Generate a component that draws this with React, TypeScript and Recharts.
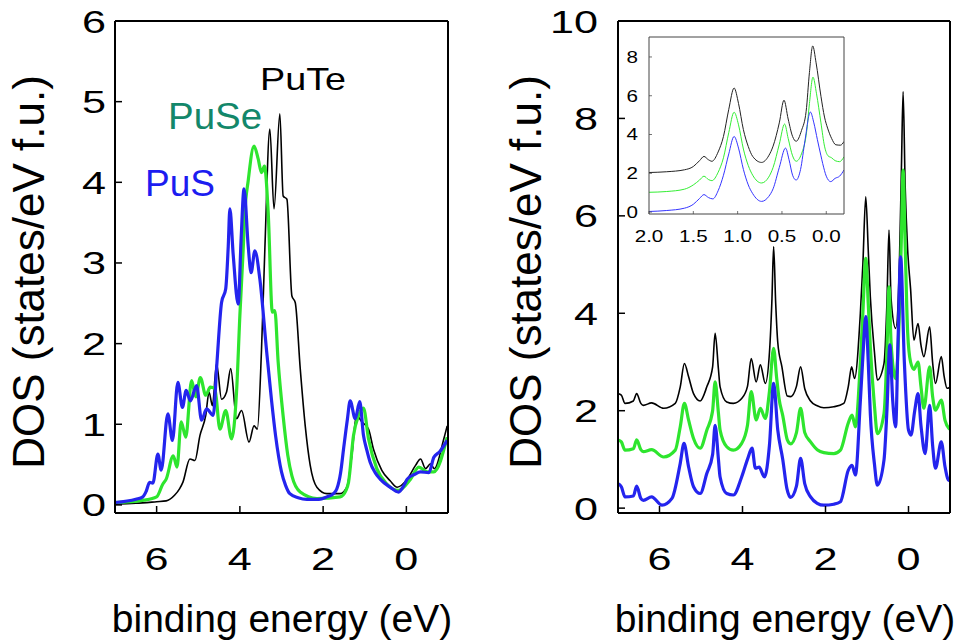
import { LineChart, Line, XAxis, YAxis } from "recharts";

type Pt = [number, number]; // [binding energy (eV), DOS]

// ---- left panel: PuS / PuSe / PuTe ----
const leftPuS: Pt[] = [
  [7.0, 0.03], [6.5, 0.07], [6.33, 0.1], [6.25, 0.17], [6.17, 0.28], [6.09, 0.27],
  [5.97, 0.63], [5.89, 0.43], [5.73, 1.13], [5.62, 0.8], [5.49, 1.52], [5.38, 1.21],
  [5.29, 1.42], [5.19, 1.29], [5.04, 1.48], [4.92, 1.05], [4.8, 1.19], [4.64, 1.11],
  [4.55, 1.77], [4.44, 2.51], [4.34, 2.68], [4.28, 3.2], [4.24, 3.67], [4.16, 3.1],
  [4.04, 2.49], [3.97, 3.3], [3.9, 3.92], [3.8, 3.21], [3.73, 2.88], [3.64, 3.15],
  [3.52, 2.8], [3.36, 1.92], [3.24, 1.3], [3.14, 0.85], [3.0, 0.41], [2.9, 0.24],
  [2.8, 0.14], [2.6, 0.09], [2.39, 0.07], [2.1, 0.07], [1.91, 0.1], [1.75, 0.14],
  [1.67, 0.2], [1.58, 0.4], [1.51, 0.69], [1.42, 1.05], [1.35, 1.29], [1.23, 1.07],
  [1.12, 1.28], [1.03, 0.86], [0.95, 0.68], [0.87, 0.53], [0.75, 0.4], [0.63, 0.32],
  [0.39, 0.22], [0.19, 0.16], [0.05, 0.25], [-0.02, 0.32], [-0.2, 0.38], [-0.34, 0.41],
  [-0.54, 0.4], [-0.66, 0.59], [-0.8, 0.66], [-0.98, 0.8],
];
const leftPuSe: Pt[] = [
  [7.0, 0.03], [6.3, 0.06], [6.0, 0.1], [5.85, 0.26], [5.77, 0.32], [5.6, 0.61],
  [5.51, 0.47], [5.41, 1.03], [5.3, 0.84], [5.16, 1.54], [5.06, 1.34], [4.95, 1.58],
  [4.82, 1.36], [4.71, 1.46], [4.6, 1.44], [4.48, 0.94], [4.34, 1.17], [4.2, 0.82],
  [4.08, 1.4], [4.0, 2.35], [3.92, 3.17], [3.88, 3.63], [3.8, 4.02], [3.66, 4.45],
  [3.56, 4.29], [3.48, 4.12], [3.41, 4.2], [3.32, 3.63], [3.22, 2.39], [3.16, 2.41],
  [3.08, 1.77], [2.96, 1.1], [2.85, 0.62], [2.75, 0.36], [2.55, 0.16], [2.15, 0.08],
  [1.59, 0.1], [1.45, 0.18], [1.39, 0.28], [1.27, 0.86], [1.15, 1.11], [1.03, 1.2],
  [0.91, 0.82], [0.71, 0.45], [0.47, 0.26], [0.19, 0.18], [-0.1, 0.32], [-0.3, 0.47],
  [-0.5, 0.41], [-0.66, 0.41], [-0.98, 0.84],
];
const leftPuTe: Pt[] = [
  [7.0, 0.01], [6.5, 0.02], [6.0, 0.04], [5.77, 0.05], [5.57, 0.12], [5.45, 0.2],
  [5.37, 0.28], [5.2, 0.57], [5.08, 0.55], [4.96, 0.86], [4.82, 1.11], [4.74, 1.4],
  [4.66, 1.23], [4.56, 1.75], [4.44, 1.31], [4.32, 1.4], [4.22, 1.69], [4.08, 1.07],
  [3.96, 1.17], [3.78, 0.78], [3.66, 0.98], [3.58, 0.94], [3.48, 1.93], [3.4, 3.17],
  [3.28, 4.66], [3.18, 3.67], [3.04, 4.85], [2.96, 3.83], [2.87, 3.79], [2.75, 2.59],
  [2.67, 2.51], [2.55, 1.69], [2.43, 0.98], [2.31, 0.49], [2.15, 0.22], [1.91, 0.14],
  [1.59, 0.14], [1.43, 0.22], [1.31, 0.61], [1.2, 1.11], [1.07, 1.03], [0.91, 0.94],
  [0.79, 0.69], [0.59, 0.43], [0.39, 0.3], [0.22, 0.22], [-0.02, 0.32], [-0.22, 0.49],
  [-0.34, 0.57], [-0.46, 0.45], [-0.58, 0.51], [-0.67, 0.45], [-0.9, 0.82], [-0.98, 0.98],
];

// ---- right panel: offset curves ----
const rightTop: Pt[] = [
  [7.0, 2.35], [6.92, 2.32], [6.83, 2.15], [6.63, 2.2], [6.55, 2.35], [6.45, 2.15],
  [6.39, 2.11], [6.19, 2.16], [5.9, 2.05], [5.62, 2.15], [5.5, 2.49], [5.4, 2.97],
  [5.3, 2.7], [5.18, 2.35], [5.02, 2.2], [4.86, 2.49], [4.72, 2.9], [4.66, 3.59],
  [4.58, 2.85], [4.54, 2.49], [4.38, 2.18], [4.22, 2.15], [4.02, 2.25], [3.88, 2.5],
  [3.79, 3.07], [3.67, 2.59], [3.57, 2.94], [3.45, 2.56], [3.35, 3.2], [3.29, 4.3],
  [3.25, 5.37], [3.2, 4.2], [3.15, 3.4], [3.05, 2.9], [2.92, 2.3], [2.84, 2.29],
  [2.7, 2.5], [2.6, 2.9], [2.5, 2.45], [2.36, 2.2], [2.2, 2.1], [2.04, 2.06],
  [1.8, 2.08], [1.56, 2.15], [1.45, 2.5], [1.37, 2.9], [1.3, 2.66], [1.16, 4.0],
  [1.1, 5.0], [1.03, 6.39], [0.97, 5.3], [0.92, 4.34], [0.82, 3.2], [0.75, 2.63],
  [0.59, 2.97], [0.52, 4.2], [0.47, 5.71], [0.42, 4.3], [0.31, 3.69], [0.22, 5.0],
  [0.17, 7.0], [0.13, 8.55], [0.08, 6.6], [0.02, 5.3], [-0.05, 4.5], [-0.13, 3.45],
  [-0.23, 3.79], [-0.3, 3.35], [-0.37, 3.11], [-0.51, 3.72], [-0.58, 3.0], [-0.65, 2.56],
  [-0.79, 3.11], [-0.86, 2.7], [-0.93, 2.46], [-1.0, 2.48],
];
const rightMid: Pt[] = [
  [7.0, 1.4], [6.92, 1.36], [6.83, 1.19], [6.63, 1.22], [6.55, 1.4], [6.45, 1.2],
  [6.39, 1.16], [6.19, 1.2], [5.9, 1.05], [5.62, 1.19], [5.5, 1.67], [5.4, 2.15],
  [5.3, 1.81], [5.18, 1.43], [5.02, 1.23], [4.86, 1.6], [4.72, 2.0], [4.66, 2.59],
  [4.58, 1.95], [4.54, 1.6], [4.38, 1.26], [4.22, 1.19], [4.02, 1.33], [3.88, 1.7],
  [3.79, 2.39], [3.67, 1.81], [3.57, 2.05], [3.45, 1.84], [3.35, 2.4], [3.25, 3.28],
  [3.18, 2.7], [3.12, 2.25], [3.03, 1.9], [2.92, 1.4], [2.84, 1.32], [2.7, 1.55],
  [2.6, 2.05], [2.5, 1.55], [2.36, 1.36], [2.2, 1.2], [2.04, 1.14], [1.8, 1.12],
  [1.64, 1.19], [1.45, 1.75], [1.36, 1.91], [1.28, 1.67], [1.16, 3.0], [1.1, 4.0],
  [1.03, 5.13], [0.97, 4.2], [0.92, 3.31], [0.82, 2.1], [0.75, 1.53], [0.59, 1.94],
  [0.52, 3.2], [0.47, 4.54], [0.42, 3.4], [0.31, 2.66], [0.22, 4.0], [0.17, 5.6],
  [0.13, 6.94], [0.08, 5.4], [0.02, 3.6], [-0.05, 3.0], [-0.13, 2.85], [-0.23, 3.0],
  [-0.3, 2.5], [-0.37, 2.05], [-0.51, 2.9], [-0.58, 2.3], [-0.65, 2.01], [-0.79, 2.22],
  [-0.88, 1.8], [-0.97, 1.64], [-1.0, 1.62],
];
const rightLow: Pt[] = [
  [7.0, 0.5], [6.92, 0.44], [6.83, 0.23], [6.63, 0.25], [6.55, 0.45], [6.45, 0.2],
  [6.39, 0.16], [6.19, 0.23], [5.94, 0.06], [5.7, 0.2], [5.5, 0.92], [5.41, 1.33],
  [5.3, 0.85], [5.18, 0.44], [5.02, 0.3], [4.86, 0.71], [4.72, 1.1], [4.66, 1.7],
  [4.58, 1.0], [4.54, 0.64], [4.38, 0.3], [4.22, 0.27], [4.02, 0.64], [3.88, 1.0],
  [3.77, 1.23], [3.69, 0.82], [3.6, 0.84], [3.47, 0.64], [3.35, 1.3], [3.25, 2.56],
  [3.15, 1.6], [3.03, 1.0], [2.93, 0.4], [2.84, 0.22], [2.7, 0.45], [2.6, 1.02],
  [2.5, 0.5], [2.36, 0.23], [2.2, 0.1], [2.04, 0.06], [1.8, 0.08], [1.64, 0.13],
  [1.45, 0.78], [1.36, 0.88], [1.28, 0.68], [1.16, 2.2], [1.1, 3.1], [1.03, 3.93],
  [0.97, 3.0], [0.92, 1.94], [0.82, 0.9], [0.75, 0.47], [0.59, 0.99], [0.52, 2.0],
  [0.45, 3.35], [0.38, 2.2], [0.31, 1.67], [0.25, 3.5], [0.19, 5.16], [0.1, 3.0],
  [0.0, 1.6], [-0.06, 1.5], [-0.15, 2.0], [-0.23, 2.35], [-0.3, 1.7], [-0.4, 1.12],
  [-0.51, 2.11], [-0.58, 1.3], [-0.65, 0.82], [-0.79, 1.36], [-0.88, 0.85], [-0.97, 0.57],
  [-1.0, 0.6],
];

// ---- inset: zoom near the Fermi level ----
const insetTop: Pt[] = [
  [2.0, 2.04], [1.8, 2.08], [1.6, 2.18], [1.5, 2.35], [1.43, 2.65], [1.38, 2.87],
  [1.33, 2.7], [1.29, 2.62], [1.22, 3.1], [1.16, 3.9], [1.1, 5.3], [1.04, 6.4],
  [0.99, 5.6], [0.935, 4.25], [0.88, 3.38], [0.83, 2.87], [0.73, 2.56], [0.65, 2.9],
  [0.6, 3.4], [0.53, 4.6], [0.477, 5.77], [0.43, 4.8], [0.38, 3.9], [0.34, 3.65],
  [0.28, 4.2], [0.227, 5.2], [0.19, 7.2], [0.153, 8.57], [0.115, 7.7], [0.06, 5.97],
  [0.02, 4.9], [-0.015, 4.33], [-0.06, 3.8], [-0.108, 3.47], [-0.16, 3.45], [-0.2, 3.64],
];
const insetMid: Pt[] = [
  [2.0, 1.02], [1.8, 1.06], [1.6, 1.18], [1.5, 1.4], [1.43, 1.65], [1.38, 1.85],
  [1.33, 1.68], [1.29, 1.62], [1.22, 2.05], [1.16, 2.8], [1.1, 4.1], [1.04, 5.15],
  [0.99, 4.5], [0.935, 3.25], [0.88, 2.4], [0.83, 1.9], [0.73, 1.5], [0.65, 1.8],
  [0.6, 2.3], [0.53, 3.5], [0.47, 4.54], [0.43, 3.8], [0.38, 2.9], [0.34, 2.62],
  [0.28, 3.0], [0.22, 4.2], [0.19, 5.6], [0.15, 6.96], [0.11, 6.1], [0.06, 4.6],
  [0.02, 3.4], [-0.02, 2.9], [-0.06, 2.8], [-0.1, 2.65], [-0.15, 2.6], [-0.2, 2.85],
];
const insetLow: Pt[] = [
  [2.0, 0.03], [1.8, 0.08], [1.6, 0.2], [1.5, 0.4], [1.43, 0.7], [1.38, 0.9],
  [1.33, 0.75], [1.28, 0.68], [1.22, 1.1], [1.16, 1.9], [1.1, 3.0], [1.04, 3.9],
  [0.99, 3.3], [0.935, 2.2], [0.88, 1.4], [0.83, 0.95], [0.73, 0.55], [0.65, 0.8],
  [0.6, 1.2], [0.53, 2.3], [0.46, 3.3], [0.42, 2.7], [0.38, 1.9], [0.34, 1.65],
  [0.29, 2.2], [0.24, 3.7], [0.18, 5.16], [0.14, 4.6], [0.1, 3.73], [0.06, 2.9],
  [0.04, 2.5], [0.0, 1.85], [-0.05, 1.57], [-0.1, 1.74], [-0.15, 1.85], [-0.2, 2.17],
];

const energyTicks = [6, 4, 2, 0];
const leftDosTicks = [0, 1, 2, 3, 4, 5, 6];
const rightDosTicks = [0, 2, 4, 6, 8, 10];
const insetEnergyTicks = [2.0, 1.5, 1.0, 0.5, 0.0];
const insetDosTicks = [0, 2, 4, 6, 8];

const FONT = "'Liberation Sans', Arial, sans-serif";
const BLUE = "#2424ee";
const GREEN = "#2ee52e";
const BLACK = "#000";

const rows = (pts: Pt[]) => pts.map(([e, d]) => ({ e, d }));

// digits in the original figure are drawn horizontally stretched
function WideTick(props: any) {
  const { x, y, payload, anchor, size, sx, mode, fmt } = props;
  const label = fmt ? fmt(payload.value) : String(payload.value);
  const yy = mode === "x" ? y + size * 0.716 : y + size * 0.36;
  return (
    <text
      transform={`translate(${x},${yy}) scale(${sx},1)`}
      textAnchor={anchor}
      fontSize={size}
      fontFamily={FONT}
      fill="#000"
    >
      {label}
    </text>
  );
}

interface Series {
  pts: Pt[];
  color: string;
  width: number;
}

interface PanelProps {
  width: number;
  height: number;
  // plot box edges inside the chart
  box: { top: number; right: number; bottom: number; left: number };
  xDomain: [number, number];
  xTicks: number[];
  yDomain: [number, number];
  yTicks: number[];
  series: Series[];
  tickLen: number;
  fontSize: number;
  stretch: number;
  xLabelGap: number;
  yLabelGap: number;
  frame: string;
  frameWidth: number;
  fmt?: (v: number) => string;
}

function Panel(p: PanelProps) {
  const axisLine = { stroke: p.frame, strokeWidth: p.frameWidth };
  const tickLine = { stroke: p.frame, strokeWidth: p.frameWidth * 0.75 };
  // every axis takes 1px, margins give the rest
  const margin = {
    top: p.box.top - 1,
    right: p.width - p.box.right - 1,
    bottom: p.height - p.box.bottom - 1,
    left: p.box.left - 1,
  };
  return (
    <LineChart width={p.width} height={p.height} margin={margin}>
      <XAxis
        xAxisId="b"
        type="number"
        dataKey="e"
        domain={p.xDomain}
        reversed
        allowDataOverflow
        ticks={p.xTicks}
        height={1}
        tickSize={-p.tickLen}
        tickMargin={p.xLabelGap}
        axisLine={axisLine}
        tickLine={tickLine}
        tick={(t: any) => (
          <WideTick {...t} anchor="middle" size={p.fontSize} sx={p.stretch} mode="x" fmt={p.fmt} />
        )}
      />
      <XAxis
        xAxisId="t"
        orientation="top"
        type="number"
        dataKey="e"
        domain={p.xDomain}
        reversed
        allowDataOverflow
        ticks={p.xTicks}
        height={1}
        tickSize={-p.tickLen}
        axisLine={axisLine}
        tickLine={tickLine}
        tick={false}
      />
      <YAxis
        yAxisId="l"
        type="number"
        domain={p.yDomain}
        allowDataOverflow
        ticks={p.yTicks}
        width={1}
        tickSize={-p.tickLen}
        tickMargin={p.yLabelGap}
        axisLine={axisLine}
        tickLine={tickLine}
        tick={(t: any) => (
          <WideTick {...t} anchor="end" size={p.fontSize} sx={p.stretch} mode="y" />
        )}
      />
      <YAxis
        yAxisId="r"
        orientation="right"
        type="number"
        domain={p.yDomain}
        allowDataOverflow
        ticks={p.yTicks}
        width={1}
        tickSize={-p.tickLen}
        axisLine={axisLine}
        tickLine={tickLine}
        tick={false}
      />
      {p.series.map((s, i) => (
        <Line
          key={i}
          xAxisId="b"
          yAxisId="l"
          data={rows(s.pts)}
          dataKey="d"
          type="monotone"
          stroke={s.color}
          strokeWidth={s.width}
          dot={false}
          activeDot={false}
          isAnimationActive={false}
        />
      ))}
    </LineChart>
  );
}

export default function App() {
  const mainCommon = {
    height: 642,
    xDomain: [-1, 7] as [number, number],
    xTicks: energyTicks,
    tickLen: 7,
    fontSize: 32,
    stretch: 1.35,
    xLabelGap: 41,
    frame: "#000",
    frameWidth: 2,
  };
  return (
    <div style={{ position: "absolute", left: 0, top: 0, width: 956, height: 642, background: "#fff" }}>
      <div style={{ position: "absolute", left: 0, top: 0 }}>
        <Panel
          {...mainCommon}
          width={470}
          box={{ top: 21, right: 448, bottom: 513, left: 115 }}
          yDomain={[-0.1, 6]}
          yTicks={leftDosTicks}
          yLabelGap={16}
          series={[
            { pts: leftPuTe, color: BLACK, width: 1.6 },
            { pts: leftPuSe, color: GREEN, width: 3.2 },
            { pts: leftPuS, color: BLUE, width: 3.2 },
          ]}
        />
      </div>
      <div style={{ position: "absolute", left: 470, top: 0 }}>
        <Panel
          {...mainCommon}
          width={486}
          box={{ top: 21, right: 480, bottom: 513, left: 148 }}
          yDomain={[-0.1, 10]}
          yTicks={rightDosTicks}
          yLabelGap={27}
          series={[
            { pts: rightTop, color: BLACK, width: 1.6 },
            { pts: rightMid, color: GREEN, width: 3.2 },
            { pts: rightLow, color: BLUE, width: 3.2 },
          ]}
        />
      </div>
      <div style={{ position: "absolute", left: 590, top: 20 }}>
        <Panel
          width={270}
          height={240}
          box={{ top: 17, right: 254, bottom: 194, left: 59 }}
          xDomain={[-0.2, 2.0]}
          xTicks={insetEnergyTicks}
          yDomain={[-0.1, 9.03]}
          yTicks={insetDosTicks}
          tickLen={3}
          fontSize={16.5}
          stretch={1.25}
          xLabelGap={19}
          yLabelGap={14}
          frame="#444"
          frameWidth={1}
          fmt={(v: number) => v.toFixed(1)}
          series={[
            { pts: insetTop, color: "#222", width: 1 },
            { pts: insetMid, color: "#33ee33", width: 1 },
            { pts: insetLow, color: "#3434ff", width: 1 },
          ]}
        />
      </div>
      <svg
        width={956}
        height={642}
        style={{ position: "absolute", left: 0, top: 0, pointerEvents: "none" }}
        fontFamily={FONT}
      >
        <text transform="translate(260,90) scale(1.18,1)" fontSize={32} fill="#000">PuTe</text>
        <text transform="translate(168,129) scale(1.04,1)" fontSize={37} fill="#13876a">PuSe</text>
        <text x={145} y={196} fontSize={37} fill="#1c1cf0">PuS</text>
        <text x={282} y={632} fontSize={39} textAnchor="middle">binding energy (eV)</text>
        <text x={785} y={632} fontSize={39} textAnchor="middle">binding energy (eV)</text>
        <text transform="translate(44,272) rotate(-90)" fontSize={44} textAnchor="middle">
          DOS (states/eV f.u.)
        </text>
        <text transform="translate(541,272) rotate(-90)" fontSize={44} textAnchor="middle">
          DOS (states/eV f.u.)
        </text>
      </svg>
    </div>
  );
}
